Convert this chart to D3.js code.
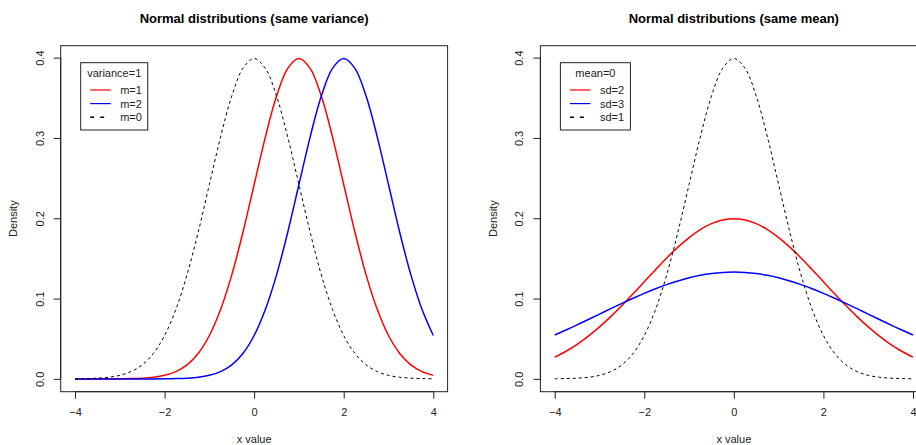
<!DOCTYPE html>
<html>
<head>
<meta charset="utf-8">
<script src="https://cdn.jsdelivr.net/npm/d3@7/dist/d3.min.js"></script>
<style>
  html, body { margin: 0; padding: 0; background: #ffffff; }
  svg { display: block; font-family: "Liberation Sans", Arial, Helvetica, sans-serif; }
</style>
</head>
<body>
<svg id="chart" width="916" height="445"></svg>
<script>
// x positions shared by every density curve
const xGrid = [-4, -3.75, -3.5, -3.25, -3, -2.75, -2.5, -2.25, -2, -1.75, -1.5, -1.25, -1, -0.75, -0.5, -0.25,
  0, 0.25, 0.5, 0.75, 1, 1.25, 1.5, 1.75, 2, 2.25, 2.5, 2.75, 3, 3.25, 3.5, 3.75, 4];

// density of N(0, 1)
const densMean0Sd1 = [0.0001, 0.0004, 0.0009, 0.0020, 0.0044, 0.0091, 0.0175, 0.0317, 0.0540, 0.0863, 0.1295, 0.1826, 0.2420, 0.3011, 0.3521, 0.3867,
  0.3989, 0.3867, 0.3521, 0.3011, 0.2420, 0.1826, 0.1295, 0.0863, 0.0540, 0.0317, 0.0175, 0.0091, 0.0044, 0.0020, 0.0009, 0.0004, 0.0001];

// density of N(1, 1)
const densMean1Sd1 = [0.0000, 0.0000, 0.0000, 0.0000, 0.0001, 0.0004, 0.0009, 0.0020, 0.0044, 0.0091, 0.0175, 0.0317, 0.0540, 0.0863, 0.1295, 0.1826,
  0.2420, 0.3011, 0.3521, 0.3867, 0.3989, 0.3867, 0.3521, 0.3011, 0.2420, 0.1826, 0.1295, 0.0863, 0.0540, 0.0317, 0.0175, 0.0091, 0.0044];

// density of N(2, 1)
const densMean2Sd1 = [0.0000, 0.0000, 0.0000, 0.0000, 0.0000, 0.0000, 0.0000, 0.0000, 0.0001, 0.0004, 0.0009, 0.0020, 0.0044, 0.0091, 0.0175, 0.0317,
  0.0540, 0.0863, 0.1295, 0.1826, 0.2420, 0.3011, 0.3521, 0.3867, 0.3989, 0.3867, 0.3521, 0.3011, 0.2420, 0.1826, 0.1295, 0.0863, 0.0540];

// density of N(0, 2^2)
const densMean0Sd2 = [0.0270, 0.0344, 0.0431, 0.0533, 0.0648, 0.0775, 0.0913, 0.1059, 0.1210, 0.1360, 0.1506, 0.1641, 0.1760, 0.1859, 0.1933, 0.1979,
  0.1995, 0.1979, 0.1933, 0.1859, 0.1760, 0.1641, 0.1506, 0.1360, 0.1210, 0.1059, 0.0913, 0.0775, 0.0648, 0.0533, 0.0431, 0.0344, 0.0270];

// density of N(0, 3^2)
const densMean0Sd3 = [0.0547, 0.0609, 0.0673, 0.0740, 0.0807, 0.0874, 0.0940, 0.1004, 0.1065, 0.1122, 0.1174, 0.1219, 0.1258, 0.1289, 0.1311, 0.1325,
  0.1330, 0.1325, 0.1311, 0.1289, 0.1258, 0.1219, 0.1174, 0.1122, 0.1065, 0.1004, 0.0940, 0.0874, 0.0807, 0.0740, 0.0673, 0.0609, 0.0547];

const xTicks = [-4, -2, 0, 2, 4];
const yTicks = [0.0, 0.1, 0.2, 0.3, 0.4];

const panelTitles = ["Normal distributions (same variance)", "Normal distributions (same mean)"];
const legendTitles = ["variance=1", "mean=0"];
const legendLabels = [["m=1", "m=2", "m=0"], ["sd=2", "sd=3", "sd=1"]];
const panelSeries = [
  [densMean1Sd1, densMean2Sd1, densMean0Sd1],
  [densMean0Sd2, densMean0Sd3, densMean0Sd1]
];
const seriesColors = ["#ff0000", "#0000ff", "#000000"];
const seriesDashed = [false, false, true];

const svg = d3.select("#chart");

// plot regions (left, top, width, height) and legend boxes
const panels = [
  { left: 60.7, top: 45.7, width: 386.9, height: 346, legendW: 67 },
  { left: 540.4, top: 45.7, width: 386.9, height: 346, legendW: 70 }
];

panels.forEach((p, i) => {
  const g = svg.append("g");

  // R-style 4% padding around the data range
  const xMin = -4, xMax = 4, yMax = d3.max(panelSeries[0][0]);
  const xPad = (xMax - xMin) * 0.04;
  const yPad = yMax * 0.04;

  const x = d3.scaleLinear().domain([xMin - xPad, xMax + xPad]).range([p.left, p.left + p.width]);
  const y = d3.scaleLinear().domain([0 - yPad, yMax + yPad]).range([p.top + p.height, p.top]);

  // title
  g.append("text")
    .attr("x", p.left + p.width / 2)
    .attr("y", 23)
    .attr("text-anchor", "middle")
    .attr("font-size", 13)
    .attr("font-weight", "bold")
    .attr("fill", "#000")
    .text(panelTitles[i]);

  // curves
  const line = d3.line()
    .x((d, k) => x(xGrid[k]))
    .y(d => y(d))
    .curve(d3.curveCatmullRom.alpha(0.5));

  panelSeries[i].forEach((vals, s) => {
    g.append("path")
      .datum(vals)
      .attr("d", line)
      .attr("fill", "none")
      .attr("stroke", seriesColors[s])
      .attr("stroke-width", seriesDashed[s] ? 1 : 1.5)
      .attr("stroke-dasharray", seriesDashed[s] ? "3,3" : null);
  });

  // frame
  g.append("rect")
    .attr("x", p.left).attr("y", p.top)
    .attr("width", p.width).attr("height", p.height)
    .attr("fill", "none")
    .attr("stroke", "#222")
    .attr("stroke-width", 1);

  // x axis
  const xAxis = d3.axisBottom(x).tickValues(xTicks).tickSize(7).tickPadding(10)
    .tickFormat(d3.format("d"));
  const gx = g.append("g")
    .attr("transform", `translate(0,${p.top + p.height})`)
    .call(xAxis);
  gx.select(".domain").attr("d", `M${x(xTicks[0])},0H${x(xTicks[xTicks.length - 1])}`).attr("stroke", "#222");
  gx.selectAll(".tick line").attr("stroke", "#222");
  gx.selectAll(".tick text")
    .attr("font-size", 11)
    .attr("font-family", "Liberation Sans, Arial, sans-serif")
    .attr("fill", "#222");

  // y axis with labels running parallel to the axis
  const yAxis = d3.axisLeft(y).tickValues(yTicks).tickSize(7).tickFormat(d3.format(".1f"));
  const gy = g.append("g")
    .attr("transform", `translate(${p.left},0)`)
    .call(yAxis);
  gy.select(".domain").attr("d", `M0,${y(yTicks[0])}V${y(yTicks[yTicks.length - 1])}`).attr("stroke", "#222");
  gy.selectAll(".tick line").attr("stroke", "#222");
  gy.selectAll(".tick text")
    .attr("x", null).attr("dy", null)
    .attr("transform", "translate(-17.2,0) rotate(-90)")
    .attr("text-anchor", "middle")
    .attr("font-size", 11)
    .attr("font-family", "Liberation Sans, Arial, sans-serif")
    .attr("fill", "#222");

  // axis titles
  g.append("text")
    .attr("x", p.left + p.width / 2)
    .attr("y", 443)
    .attr("text-anchor", "middle")
    .attr("font-size", 11)
    .attr("fill", "#222")
    .text("x value");
  g.append("text")
    .attr("transform", `translate(${p.left - 43.7},${p.top + p.height / 2}) rotate(-90)`)
    .attr("text-anchor", "middle")
    .attr("font-size", 11)
    .attr("fill", "#222")
    .text("Density");

  // legend
  const lx = p.left + 20, ly = 62.7, lh = 67.3;
  const lg = g.append("g");
  lg.append("rect")
    .attr("x", lx).attr("y", ly)
    .attr("width", p.legendW).attr("height", lh)
    .attr("fill", "#fff")
    .attr("stroke", "#222")
    .attr("stroke-width", 1);
  lg.append("text")
    .attr("x", lx + p.legendW / 2)
    .attr("y", 77.3)
    .attr("text-anchor", "middle")
    .attr("font-size", 11)
    .attr("fill", "#222")
    .text(legendTitles[i]);
  legendLabels[i].forEach((lab, s) => {
    const cy = 90 + s * 13.6;
    lg.append("line")
      .attr("x1", lx + 9.5).attr("x2", seriesDashed[s] ? lx + 23.5 : lx + 30)
      .attr("y1", cy).attr("y2", cy)
      .attr("stroke", seriesColors[s])
      .attr("stroke-width", seriesDashed[s] ? 1.5 : 1.2)
      .attr("stroke-dasharray", seriesDashed[s] ? "4,6" : null);
    lg.append("text")
      .attr("x", lx + 39.5)
      .attr("y", cy + 4)
      .attr("font-size", 11)
      .attr("fill", "#222")
      .text(lab);
  });
});
</script>
</body>
</html>
